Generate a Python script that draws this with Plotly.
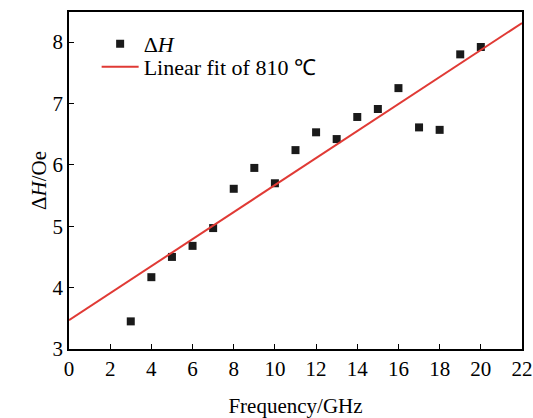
import plotly.graph_objects as go

freq = [3, 4, 5, 6, 7, 8, 9, 10, 11, 12, 13, 14, 15, 16, 17, 18, 19, 20]
delta_h = [3.45, 4.17, 4.50, 4.68, 4.97, 5.61, 5.95, 5.70, 6.24, 6.53, 6.42,
           6.78, 6.91, 7.25, 6.61, 6.57, 7.80, 7.92]
fit_x = [0, 22]
fit_y = [3.47, 8.31]
x_ticks = list(range(0, 23, 2))
y_ticks = [3, 4, 5, 6, 7, 8]

font = "Liberation Serif, Times New Roman, serif"

fig = go.Figure()
fig.add_trace(go.Scatter(
    x=freq, y=delta_h, mode="markers", name="Δ<i>H</i>",
    marker=dict(symbol="square", size=8, color="#1a1a1a"), legend="legend",
))
fig.add_trace(go.Scatter(
    x=fit_x, y=fit_y, mode="lines", name="Linear fit of 810 ℃",
    line=dict(color="#e03a35", width=2), legend="legend2",
))

axis_common = dict(
    showgrid=False, zeroline=False, showline=True, linecolor="black",
    linewidth=1.5, mirror=True, ticks="inside", ticklen=5, tickwidth=1,
    tickcolor="black", tickfont=dict(family=font, size=21, color="black"),
    automargin=False,
)
fig.update_xaxes(range=[0, 22], tickvals=x_ticks,
                 title=dict(text="Frequency/GHz", font=dict(family=font, size=21, color="black"), standoff=18),
                 **axis_common)
fig.update_yaxes(range=[3, 8.49], tickvals=y_ticks,
                 title=dict(text="Δ<i>H</i>/Oe", font=dict(family=font, size=21, color="black"), standoff=0),
                 **axis_common)

leg = dict(xanchor="left", yanchor="middle", bgcolor="rgba(0,0,0,0)",
           font=dict(family=font, size=22, color="black"), itemwidth=37)
fig.update_layout(
    width=533, height=418,
    margin=dict(l=69, r=11, t=12, b=69),
    plot_bgcolor="white", paper_bgcolor="white",
    font=dict(family=font, size=21, color="black"),
    legend=dict(x=0.061, y=0.905, **leg),
    legend2=dict(x=0.061, y=0.837, **leg),
    showlegend=True,
)

fig.write_html("out.html", config={"displayModeBar": False},
               post_script="document.body.style.margin='0';")
